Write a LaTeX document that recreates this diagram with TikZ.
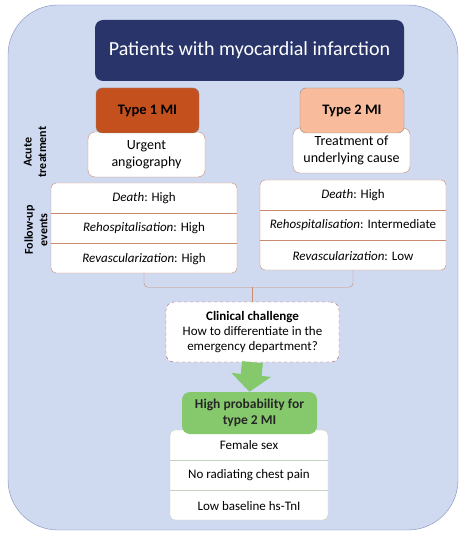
\documentclass[tikz,border=0pt]{standalone}
\usepackage{fontspec}
\setmainfont{Carlito}
\usetikzlibrary{positioning,calc,arrows.meta}
\definecolor{bgblue}{HTML}{CFDAF1}
\definecolor{bgline}{HTML}{7D8DB5}
\definecolor{navy}{HTML}{29356A}
\definecolor{rust}{HTML}{C4501E}
\definecolor{peach}{HTML}{F8BC9C}
\definecolor{brick}{HTML}{C98A6E}
\definecolor{leaf}{HTML}{86C96D}
\definecolor{sage}{HTML}{C5D3C0}
\definecolor{rosedash}{HTML}{B5546A}
\tikzset{
	typebox/.style={draw=black!45,rounded corners=6pt,minimum width=103pt,minimum height=45pt,font=\fontsize{14.5}{16}\selectfont\bfseries},
	carebox/.style={draw=brick,fill=white,rounded corners=7pt,minimum width=117pt,minimum height=45pt,align=center,font=\fontsize{14}{17}\selectfont},
	tableframe/.style={fill=white,rounded corners=5pt,minimum width=186pt,minimum height=90pt},
	rowcell/.style={minimum width=186pt,minimum height=30pt,inner sep=0pt,font=\fontsize{13}{15}\selectfont},
	sidelabel/.style={rotate=90,align=center,font=\fontsize{12}{14.5}\selectfont\bfseries},
}
\begin{document}
\begin{tikzpicture}[x=1pt,y=-1pt]
	\useasboundingbox (0,0) rectangle (468,537);
	\draw[bgline,fill=bgblue,rounded corners=50pt](8,5)rectangle(458,530);
	\node[fill=navy,rounded corners=8pt,minimum width=309pt,minimum height=61pt,text=white,font=\fontsize{20}{24}\selectfont](title) at (249.5,50.5){Patients with myocardial infarction};
	% acute treatment
	\node[carebox](urgent) at (146.5,154.5){Urgent\\angiography};
	\node[carebox](cause) at (351.5,150.5){Treatment of\\underlying cause};
	\node[typebox,fill=rust](type1) at (147.5,110.5){Type 1 MI};
	\node[typebox,fill=peach,minimum width=104pt](type2) at (352,110.5){Type 2 MI};
	\node[sidelabel](acute) at (35,152){Acute\\treatment};
	\node[sidelabel](followup) at (36,230){Follow-up\\events};
	% follow-up events
	\node[tableframe,draw=brick](leftev) at (144,228){};
	\node[rowcell,below=0pt of leftev.north](ldeath){\textit{Death}: High};
	\node[rowcell,below=0pt of ldeath](lrehosp){\textit{Rehospitalisation}: High};
	\node[rowcell,below=0pt of lrehosp](lrevasc){\textit{Revascularization}: High};
	\draw[brick](ldeath.south west)--(ldeath.south east) (lrehosp.south west)--(lrehosp.south east);
	\node[tableframe,draw=brick](rightev) at (353,225){};
	\node[rowcell,below=0pt of rightev.north](rdeath){\textit{Death}: High};
	\node[rowcell,below=0pt of rdeath](rrehosp){\textit{Rehospitalisation}: Intermediate};
	\node[rowcell,below=0pt of rrehosp](rrevasc){\textit{Revascularization}: Low};
	\draw[brick](rdeath.south west)--(rdeath.south east) (rrehosp.south west)--(rrehosp.south east);
	% challenge
	\node[draw=rosedash,dashed,fill=white,rounded corners=8pt,minimum width=173pt,minimum height=60pt,align=center,font=\fontsize{13}{15}\selectfont](challenge) at (252.5,332){\textbf{Clinical challenge}\\How to differentiate in the\\emergency department?};
	\coordinate (join) at (challenge.north |- 0,287);
	\draw[brick,rounded corners=4pt](leftev.south)--++(0,14)-|(rightev.south);
	\draw[brick,rounded corners=3pt](challenge.north)--(join);
	% high probability
	\node[tableframe,draw=sage,minimum width=158pt](signs) at (249,475){};
	\node[rowcell,minimum width=158pt,below=0pt of signs.north](female){Female sex};
	\node[rowcell,minimum width=158pt,below=0pt of female](pain){No radiating chest pain};
	\node[rowcell,minimum width=158pt,below=0pt of pain](tni){Low baseline hs-TnI};
	\draw[sage](female.south west)--(female.south east) (pain.south west)--(pain.south east);
	\node[fill=leaf,rounded corners=8pt,minimum width=135pt,minimum height=42pt,align=center,font=\fontsize{13.5}{16}\selectfont\bfseries,text=black!85](highprob) at (249.5,413){High probability for\\type 2 MI};
	\draw[leaf,line width=21pt,-{Triangle[width=39pt,length=17pt]}](challenge.south)--(highprob.north);
\end{tikzpicture}
\end{document}
